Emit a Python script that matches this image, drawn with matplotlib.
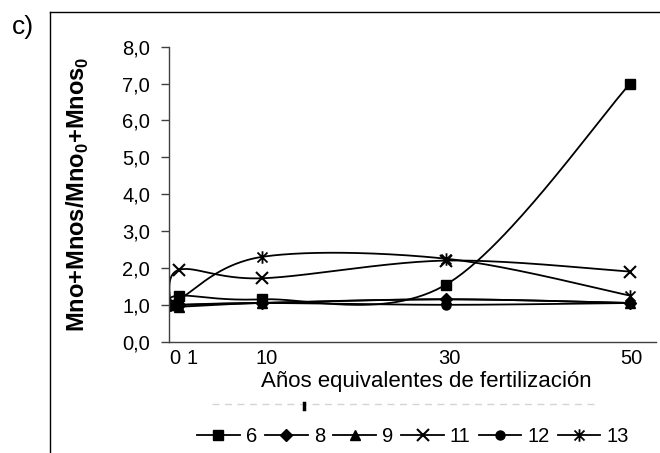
import numpy as np
import matplotlib
matplotlib.use("Agg")
import matplotlib.pyplot as plt
from matplotlib.path import Path
from matplotlib.lines import Line2D
from matplotlib.ticker import FuncFormatter
import matplotlib.transforms as mtransforms

plt.rcParams['font.family'] = ['Liberation Sans', 'DejaVu Sans']
plt.rcParams['mathtext.fontset'] = 'custom'
plt.rcParams['mathtext.rm'] = 'Liberation Sans'
plt.rcParams['mathtext.bf'] = 'Liberation Sans:bold'

# Years of fertilization (x) and Mno+Mnos ratio per treatment
years = [0, 1, 10, 30, 50]
year_labels = ["0", "1", "10", "30", "50"]
s6 = [1.0, 1.25, 1.15, 1.55, 7.0]
s8 = [1.0, 1.0, 1.05, 1.15, 1.05]
s9 = [1.0, 0.95, 1.05, 1.15, 1.05]
s11 = [1.0, 1.95, 1.72, 2.2, 1.9]
s12 = [1.0, 1.0, 1.05, 1.0, 1.05]
s13 = [1.0, 1.15, 2.3, 2.25, 1.25]
series_names = ["6", "8", "9", "11", "12", "13"]

# star marker: an X crossed by a vertical bar
star = Path([(-1, -1), (1, 1), (-1, 1), (1, -1), (0, -1.25), (0, 1.25)],
            [Path.MOVETO, Path.LINETO, Path.MOVETO, Path.LINETO, Path.MOVETO, Path.LINETO])

styles = [
    dict(marker='s', ms=7, mfc='black'),
    dict(marker='D', ms=6, mfc='black'),
    dict(marker='^', ms=7.5, mfc='black'),
    dict(marker='x', ms=8, mfc='none', mew=1.5),
    dict(marker='o', ms=6.5, mfc='black'),
    dict(marker=star, ms=9, mfc='none', mew=1.3),
]


def smooth(x, y, n=60):
    """Cubic Bezier smoothing through the points (Catmull-Rom tangents)."""
    P = np.column_stack([x, y]).astype(float)
    E = np.vstack([P[0], P, P[-1]])
    parts = []
    t = np.linspace(0, 1, n)[:, None]
    for i in range(len(P) - 1):
        p0, p1, p2, p3 = E[i], E[i + 1], E[i + 2], E[i + 3]
        c1 = p1 + (p2 - p0) / 6.0
        c2 = p2 - (p3 - p1) / 6.0
        B = ((1 - t) ** 3) * p1 + 3 * ((1 - t) ** 2) * t * c1 + 3 * (1 - t) * t ** 2 * c2 + t ** 3 * p2
        parts.append(B if i == 0 else B[1:])
    return np.vstack(parts)


W, H = 660, 453
fig = plt.figure(figsize=(W / 100, H / 100), dpi=100)
ax = fig.add_axes([169 / W, (H - 341.7) / H, 487 / W, 295 / H])

data = [s6, s8, s9, s11, s12, s13]
handles = []
for vals, st, name in zip(data, styles, series_names):
    c = smooth(years, vals)
    ax.plot(c[:, 0], c[:, 1], color='black', lw=1.3, solid_capstyle='round')
    ax.plot(years, vals, linestyle='none', color='black', mec='black', **st)
    handles.append(Line2D([], [], color='black', lw=1.3, **st))

ax.set_xlim(-0.1, 52.8)
ax.set_ylim(0, 8)
ax.set_yticks(np.arange(0, 8.01, 1.0))
ax.yaxis.set_major_formatter(FuncFormatter(lambda v, p: f"{v:.1f}".replace('.', ',')))
ax.set_xticks(years)
ax.set_xticklabels(year_labels)
for sp in ['top', 'right']:
    ax.spines[sp].set_visible(False)
for sp in ['left', 'bottom']:
    ax.spines[sp].set_color('#404040')
    ax.spines[sp].set_linewidth(1.0)
ax.tick_params(axis='y', direction='out', length=5.7, width=1.0, color='#404040',
               labelsize=14.5, pad=8)
ax.tick_params(axis='x', length=0, labelsize=14.5, pad=5)

# nudge the crowded x labels apart
shifts = [5, 13, 5, 3, 1]
for lab, dx in zip(ax.get_xticklabels(), shifts):
    lab.set_transform(lab.get_transform() + mtransforms.ScaledTranslation(dx / 100, 0, fig.dpi_scale_trans))

ax.set_xlabel("Años equivalentes de fertilización", fontsize=16)
ax.xaxis.set_label_coords((426 - 169) / 487, (341.7 - 381) / 295)
ax.xaxis.label.set_va('center')
ax.set_ylabel(r"Mno+Mnos/Mno$_\mathbf{0}$+Mnos$_\mathbf{0}$", fontsize=17, fontweight='bold')
ax.yaxis.set_label_coords((78 - 169) / 487, 0.5)
ax.yaxis.label.set_va('center')

fig.legend(handles, series_names, loc='center', ncol=6, frameon=False,
           bbox_to_anchor=(413 / W, (H - 437) / H), fontsize=14.5,
           handlelength=2.1, handletextpad=0.3, columnspacing=0.42, borderaxespad=0)

# outer panel frame and label
fig.add_artist(Line2D([50 / W, 50 / W], [0, (H - 12) / H], color='black', lw=1.0, transform=fig.transFigure))
fig.add_artist(Line2D([50 / W, 1], [(H - 12) / H, (H - 12) / H], color='black', lw=1.0, transform=fig.transFigure))
fig.text(12 / W, (H - 27) / H, "c)", fontsize=19, va='center', ha='left')

# faint hidden caption line under the axis title
fig.add_artist(Line2D([212 / W, 594 / W], [(H - 404) / H] * 2, color='#d4d4d4', lw=1.0,
                      linestyle=(0, (5, 4)), transform=fig.transFigure))
fig.add_artist(Line2D([303.5 / W, 303.5 / W], [(H - 403) / H, (H - 409) / H], color='black', lw=2.5,
                      transform=fig.transFigure))

fig.savefig("out.png", dpi=100)
